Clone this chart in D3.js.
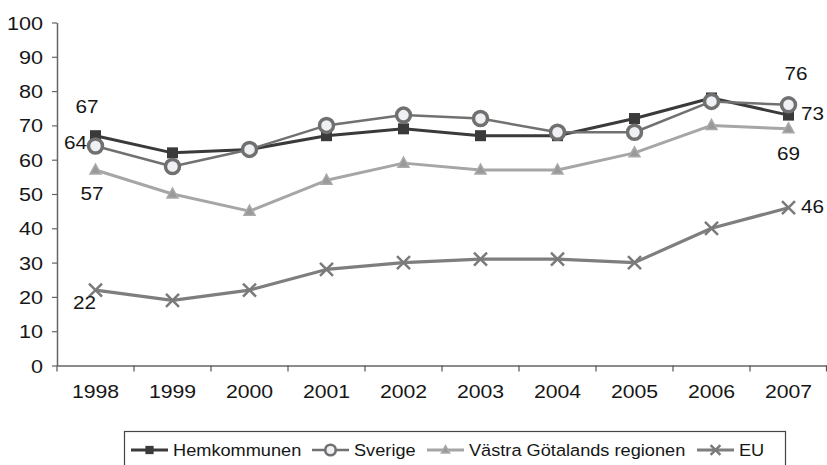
<!DOCTYPE html>
<html><head><meta charset="utf-8">
<script src="https://cdn.jsdelivr.net/npm/d3@7"></script>
<style>
html,body{margin:0;padding:0;background:#fff;}
svg text{font-family:"Liberation Sans",Arial,Helvetica,sans-serif;fill:#161616;}
</style></head>
<body><svg id="c" width="827" height="465"></svg>
<script>
const years = [1998,1999,2000,2001,2002,2003,2004,2005,2006,2007];
const hemkommunen = [67,62,63,67,69,67,67,72,78,73];
const sverige     = [64,58,63,70,73,72,68,68,77,76];
const vastra      = [57,50,45,54,59,57,57,62,70,69];
const eu          = [22,19,22,28,30,31,31,30,40,46];
const yTicks = [0,10,20,30,40,50,60,70,80,90,100];
const seriesNames = ["Hemkommunen","Sverige","Västra Götalands regionen","EU"];

const svg = d3.select("#c");
const x = d3.scaleBand().domain(years).range([57,827]);
const y = d3.scaleLinear().domain([0,100]).range([365.5,22.5]);

const styles = [
  {line:"#3a3a3a", w:3, marker:"square"},
  {line:"#717171", w:2.5, marker:"circle"},
  {line:"#a6a6a6", w:3, marker:"triangle"},
  {line:"#7e7e7e", w:3.2, marker:"cross"}
];
const seriesData = [hemkommunen, sverige, vastra, eu];

// Y axis
const yAxis = svg.append("g").attr("transform","translate(57,0)")
  .call(d3.axisLeft(y).tickValues(yTicks).tickSize(5).tickPadding(0).tickSizeOuter(0));
yAxis.select(".domain").attr("stroke","#666").attr("stroke-width",1.5);
yAxis.selectAll(".tick line").attr("stroke","#666").attr("stroke-width",1.2);
yAxis.selectAll(".tick text").remove();
yAxis.selectAll(".tick").append("g").attr("transform","translate(-14,6.5)")
  .append("text").attr("transform","scale(1.2,1)").attr("text-anchor","end")
  .style("font-size","18px").text(d=>d);

// X axis
const xAxis = svg.append("g").attr("transform","translate(0,365.5)")
  .call(d3.axisBottom(x).tickSize(0).tickSizeOuter(0));
xAxis.select(".domain").attr("stroke","#666").attr("stroke-width",1.5);
xAxis.selectAll(".tick text").remove();
xAxis.selectAll(".tick").append("g").attr("transform","translate(0,32.5)")
  .append("text").attr("transform","scale(1.18,1)").attr("text-anchor","middle")
  .style("font-size","18px").text(d=>d);
const bounds = years.map(d=>x(d)).concat([x.range()[1]-0.5]);
xAxis.selectAll("line.bt").data(bounds).enter().append("line").attr("class","bt")
  .attr("x1",d=>d).attr("x2",d=>d).attr("y1",0).attr("y2",6)
  .attr("stroke","#555").attr("stroke-width",1.2);

const cx = d => x(d) + x.bandwidth()/2;

function drawMarker(g, type, px, py, scale){
  const s = scale||1;
  if(type==="square"){
    g.append("rect").attr("x",px-5.5*s).attr("y",py-5.5*s).attr("width",11*s).attr("height",11*s).attr("fill","#3a3a3a");
  } else if(type==="circle"){
    g.append("circle").attr("cx",px).attr("cy",py).attr("r",7*s).attr("fill","#eef0f4").attr("stroke","#707070").attr("stroke-width",3.5*s);
  } else if(type==="triangle"){
    const h=10*s, w=11*s;
    g.append("path").attr("d",`M${px},${py-h*0.6}L${px+w/2},${py+h*0.4}L${px-w/2},${py+h*0.4}Z`)
      .attr("fill","#999").attr("stroke","#aaa").attr("stroke-width",1.5);
  } else {
    const r=6.5*s;
    g.append("path").attr("d",`M${px-r},${py-r}L${px+r},${py+r}M${px-r},${py+r}L${px+r},${py-r}`)
      .attr("stroke","#7a7a7a").attr("stroke-width",2.5).attr("fill","none");
  }
}

seriesData.forEach((vals,i)=>{
  const st = styles[i];
  const g = svg.append("g");
  const line = d3.line().x((d,j)=>cx(years[j])).y(d=>y(d));
  g.append("path").datum(vals).attr("d",line).attr("fill","none")
    .attr("stroke",st.line).attr("stroke-width",st.w).attr("stroke-linejoin","round");
  vals.forEach((v,j)=>drawMarker(g, st.marker, cx(years[j]), y(v)));
});

// data labels (series index, year index, offsets)
const labelConf = [
  {s:0,i:0,dx:-8.5,dy:-23},
  {s:1,i:0,dx:-20,dy:3},
  {s:2,i:0,dx:-3.5,dy:30},
  {s:3,i:0,dx:-11,dy:19},
  {s:1,i:9,dx:7.5,dy:-25},
  {s:0,i:9,dx:24,dy:5},
  {s:2,i:9,dx:0,dy:31},
  {s:3,i:9,dx:24,dy:5}
];
labelConf.forEach(c=>{
  const v = seriesData[c.s][c.i];
  svg.append("g").attr("transform",`translate(${cx(years[c.i])+c.dx},${y(v)+c.dy})`)
    .append("text").attr("transform","scale(1.15,1)").attr("text-anchor","middle")
    .style("font-size","18px").text(v);
});

// legend
const lg = svg.append("g");
lg.append("rect").attr("x",124.5).attr("y",431.5).attr("width",661).attr("height",45)
  .attr("fill","#fff").attr("stroke","#444").attr("stroke-width",1.2);
const legX = [131, 312, 427, 697];
seriesNames.forEach((n,i)=>{
  const st = styles[i];
  const x0 = legX[i];
  lg.append("line").attr("x1",x0).attr("x2",x0+37).attr("y1",450).attr("y2",450)
    .attr("stroke",st.line).attr("stroke-width",st.w);
  drawMarker(lg, st.marker, x0+18.5, 450, 0.75);
  lg.append("g").attr("transform",`translate(${x0+42},456)`)
    .append("text").attr("transform","scale(1.07,1)").style("font-size","17px").text(n);
});
</script></body></html>
